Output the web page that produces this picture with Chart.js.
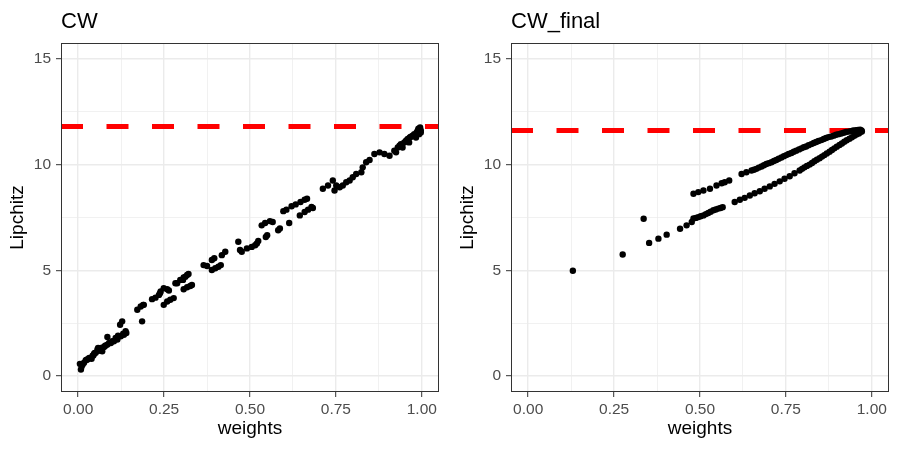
<!DOCTYPE html>
<html>
<head>
<meta charset="utf-8">
<script src="https://cdn.jsdelivr.net/npm/chart.js@4.4.1/dist/chart.umd.min.js"></script>
<style>
  html, body { margin: 0; padding: 0; background: #fff; }
  #wrap { position: relative; width: 900px; height: 450px; }
  .panel { position: absolute; top: 0; width: 450px; height: 450px; }
</style>
</head>
<body>
<div id="wrap">
  <div class="panel" style="left:0"><canvas id="cw" width="450" height="450"></canvas></div>
  <div class="panel" style="left:450px"><canvas id="cw-final" width="450" height="450"></canvas></div>
</div>
<script>
/* ── Data ─────────────────────────────────────────────────────────────── */
const cwWeights = [
  0.005, 0.008, 0.010, 0.013, 0.017, 0.022, 0.025, 0.028, 0.032, 0.039, 0.042,
  0.044, 0.046, 0.048, 0.051, 0.056, 0.058, 0.060, 0.064, 0.066, 0.070, 0.075,
  0.077, 0.080, 0.085, 0.085, 0.090, 0.095, 0.099, 0.104, 0.109, 0.114, 0.116,
  0.122, 0.124, 0.128, 0.131, 0.133, 0.138, 0.140, 0.172, 0.182, 0.186, 0.189,
  0.191, 0.215, 0.225, 0.235, 0.238, 0.240, 0.249, 0.249, 0.259, 0.259, 0.264,
  0.268, 0.278, 0.283, 0.288, 0.297, 0.305, 0.307, 0.307, 0.312, 0.317, 0.317,
  0.321, 0.326, 0.331, 0.365, 0.375, 0.389, 0.389, 0.396, 0.399, 0.408, 0.415,
  0.418, 0.428, 0.466, 0.471, 0.476, 0.491, 0.505, 0.515, 0.520, 0.524, 0.534,
  0.544, 0.546, 0.550, 0.558, 0.566, 0.582, 0.587, 0.597, 0.606, 0.614, 0.621,
  0.633, 0.645, 0.647, 0.659, 0.659, 0.666, 0.669, 0.679, 0.683, 0.712, 0.727,
  0.741, 0.746, 0.751, 0.761, 0.770, 0.780, 0.790, 0.799, 0.809, 0.824, 0.828,
  0.838, 0.848, 0.862, 0.877, 0.891, 0.906, 0.920, 0.925, 0.930, 0.935, 0.939,
  0.944, 0.949, 0.954, 0.957, 0.959, 0.963, 0.965, 0.968, 0.973, 0.975, 0.978,
  0.983, 0.985, 0.988, 0.990, 0.992, 0.995, 0.997, 0.997
];
const cwLipchitz = [
  0.58, 0.31, 0.45, 0.55, 0.63, 0.75, 0.78, 0.80, 0.86, 0.82, 0.97,
  0.97, 1.05, 1.10, 1.10, 1.26, 1.33, 1.20, 1.25, 1.33, 1.18, 1.38,
  1.41, 1.45, 1.49, 1.85, 1.57, 1.57, 1.65, 1.65, 1.80, 1.73, 1.91,
  2.43, 1.88, 2.59, 2.01, 1.96, 2.12, 2.04, 3.14, 3.29, 2.59, 3.37,
  3.37, 3.64, 3.71, 3.84, 3.92, 4.00, 4.16, 3.37, 4.11, 3.53, 4.05,
  3.61, 3.69, 4.39, 4.39, 4.55, 4.55, 4.67, 4.11, 4.70, 4.78, 4.20,
  4.83, 4.26, 4.31, 5.25, 5.21, 5.49, 5.02, 5.57, 5.10, 5.17, 5.25,
  5.72, 5.88, 6.35, 5.96, 5.88, 6.04, 6.11, 6.19, 6.27, 6.39, 7.13,
  7.24, 6.58, 6.66, 7.33, 7.29, 6.90, 6.98, 7.80, 7.87, 7.24, 8.03,
  8.12, 7.60, 8.23, 8.34, 7.76, 8.39, 7.87, 8.00, 7.95, 8.86, 9.01,
  9.25, 8.78, 9.01, 8.93, 9.01, 9.17, 9.25, 9.40, 9.56, 9.64, 9.87,
  10.11, 10.22, 10.50, 10.58, 10.50, 10.42, 10.66, 10.58, 10.81, 10.90, 10.97,
  10.81, 11.05, 11.13, 11.15, 11.21, 11.05, 11.28, 11.32, 11.36, 11.38, 11.44,
  11.28, 11.52, 11.60, 11.70, 11.44, 11.76, 11.52, 11.62
];
const cwRef = 11.8;

const finalWeights = [
  0.130, 0.275, 0.336, 0.352, 0.379, 0.403, 0.442, 0.461, 0.476,
  // lower branch
  0.481, 0.488, 0.495, 0.502, 0.510, 0.517, 0.524, 0.531, 0.539, 0.546,
  0.553, 0.560, 0.566, 0.601, 0.616, 0.630, 0.645, 0.659, 0.674, 0.688,
  0.703, 0.717, 0.732, 0.746, 0.761, 0.775, 0.790, 0.797, 0.804, 0.811,
  0.819, 0.826, 0.833, 0.840, 0.848, 0.855, 0.862, 0.869, 0.877, 0.884,
  0.891, 0.898, 0.906, 0.913, 0.920, 0.927, 0.935, 0.942, 0.949, 0.955,
  0.962, 0.965, 0.968, 0.970,
  // upper branch
  0.481, 0.495, 0.510, 0.529, 0.548, 0.563, 0.572, 0.585, 0.621, 0.635,
  0.650, 0.657, 0.664, 0.671, 0.679, 0.686, 0.693, 0.700, 0.708, 0.715,
  0.722, 0.729, 0.737, 0.744, 0.751, 0.758, 0.766, 0.773, 0.780, 0.788,
  0.795, 0.802, 0.809, 0.816, 0.824, 0.831, 0.838, 0.845, 0.853, 0.860,
  0.867, 0.874, 0.882, 0.889, 0.896, 0.903, 0.911, 0.918, 0.925, 0.932,
  0.939, 0.946, 0.954, 0.960, 0.966, 0.971
];
const finalLipchitz = [
  4.98, 5.75, 7.44, 6.30, 6.50, 6.69, 6.97, 7.13, 7.29,
  7.45, 7.48, 7.52, 7.56, 7.60, 7.66, 7.71, 7.77, 7.84, 7.88,
  7.92, 7.95, 7.99, 8.23, 8.34, 8.43, 8.54, 8.65, 8.74, 8.86,
  8.97, 9.09, 9.21, 9.33, 9.45, 9.59, 9.72, 9.80, 9.87, 9.94,
  10.00, 10.08, 10.16, 10.23, 10.30, 10.38, 10.45, 10.53, 10.61, 10.69,
  10.77, 10.85, 10.93, 11.00, 11.08, 11.15, 11.22, 11.29, 11.36, 11.42,
  11.47, 11.52, 11.57, 11.62,
  8.62, 8.70, 8.78, 8.86, 9.01, 9.12, 9.17, 9.25, 9.56, 9.64,
  9.72, 9.76, 9.80, 9.86, 9.91, 9.97, 10.03, 10.07, 10.11, 10.17,
  10.22, 10.28, 10.34, 10.40, 10.45, 10.50, 10.55, 10.61, 10.66, 10.72,
  10.77, 10.82, 10.86, 10.92, 10.97, 11.02, 11.07, 11.12, 11.16, 11.21,
  11.26, 11.30, 11.33, 11.37, 11.41, 11.44, 11.47, 11.51, 11.54, 11.56,
  11.58, 11.61, 11.63, 11.64, 11.65, 11.57
];
const finalRef = 11.61;

const xMajor  = [0, 0.25, 0.5, 0.75, 1];
const xLabels = ['0.00', '0.25', '0.50', '0.75', '1.00'];
const xMinor  = [0.125, 0.375, 0.625, 0.875];
const yMajor  = [0, 5, 10, 15];
const yLabels = ['0', '5', '10', '15'];
const yMinor  = [2.5, 7.5, 12.5];
const xRange  = [-0.05, 1.05];
const yRange  = [-0.75, 15.75];

/* ── Shared look ──────────────────────────────────────────────────────── */
Chart.defaults.font.family = '"Liberation Sans", Arial, sans-serif';
Chart.defaults.color = '#4D4D4D';

// panel border + title (ggplot theme_bw style)
const panelDecor = {
  id: 'panelDecor',
  afterDraw(chart, args, opts) {
    const { ctx, chartArea: a } = chart;
    ctx.save();
    ctx.strokeStyle = '#333333';
    ctx.lineWidth = 1;
    ctx.strokeRect(a.left + 0.5, a.top + 0.5, a.right - a.left - 1, a.bottom - a.top - 1);
    ctx.fillStyle = '#000';
    ctx.font = '22px "Liberation Sans", Arial, sans-serif';
    ctx.textBaseline = 'alphabetic';
    ctx.fillText(opts.text, a.left, 28);
    ctx.restore();
  },
};

function axis(major, labels, minor, range, title, isX) {
  return {
    type: 'linear',
    min: range[0],
    max: range[1],
    afterBuildTicks: (s) => {
      s.ticks = [...major, ...minor].sort((a, b) => a - b).map(v => ({ value: v }));
    },
    afterFit: (s) => {
      if (isX) s.height = 58; else s.width = 61;
    },
    border: { display: false },
    grid: {
      color: '#EBEBEB',
      lineWidth: (c) => (major.includes(c.tick.value) ? 1.4 : 0.7),
      tickLength: 5,
      tickWidth: 1,
      tickColor: (c) => (major.includes(c.tick.value) ? '#333333' : 'rgba(0,0,0,0)'),
    },
    ticks: {
      autoSkip: false,
      maxRotation: 0,
      padding: isX ? 3 : 5,
      color: '#4D4D4D',
      font: { size: 15.5 },
      callback: (v) => {
        const i = major.indexOf(v);
        return i >= 0 ? labels[i] : '';
      },
    },
    title: {
      display: true,
      text: title,
      color: '#000',
      font: { size: 19 },
      padding: isX ? { top: 0, bottom: 9.5 } : { top: 6, bottom: 0 },
    },
  };
}

function makePanel(id, title, xs, ys, ref) {
  const pts = xs.map((x, i) => ({ x: x, y: ys[i] }));
  return new Chart(document.getElementById(id), {
    type: 'scatter',
    data: {
      datasets: [
        {
          data: pts,
          backgroundColor: '#000',
          borderWidth: 0,
          pointRadius: 3.2,
          order: 0,
        },
        {
          type: 'line',
          data: [{ x: xRange[0], y: ref }, { x: xRange[1], y: ref }],
          borderColor: '#FF0000',
          borderWidth: 5,
          borderDash: [22, 23.5],
          pointRadius: 0,
          fill: false,
          order: 1,
        },
      ],
    },
    options: {
      responsive: false,
      animation: false,
      events: [],
      layout: { padding: { top: 43, right: 11, left: 0, bottom: 0 } },
      plugins: {
        legend: { display: false },
        tooltip: { enabled: false },
        panelDecor: { text: title },
      },
      scales: {
        x: axis(xMajor, xLabels, xMinor, xRange, 'weights', true),
        y: axis(yMajor, yLabels, yMinor, yRange, 'Lipchitz', false),
      },
    },
    plugins: [panelDecor],
  });
}

makePanel('cw', 'CW', cwWeights, cwLipchitz, cwRef);
makePanel('cw-final', 'CW_final', finalWeights, finalLipchitz, finalRef);
</script>
</body>
</html>
